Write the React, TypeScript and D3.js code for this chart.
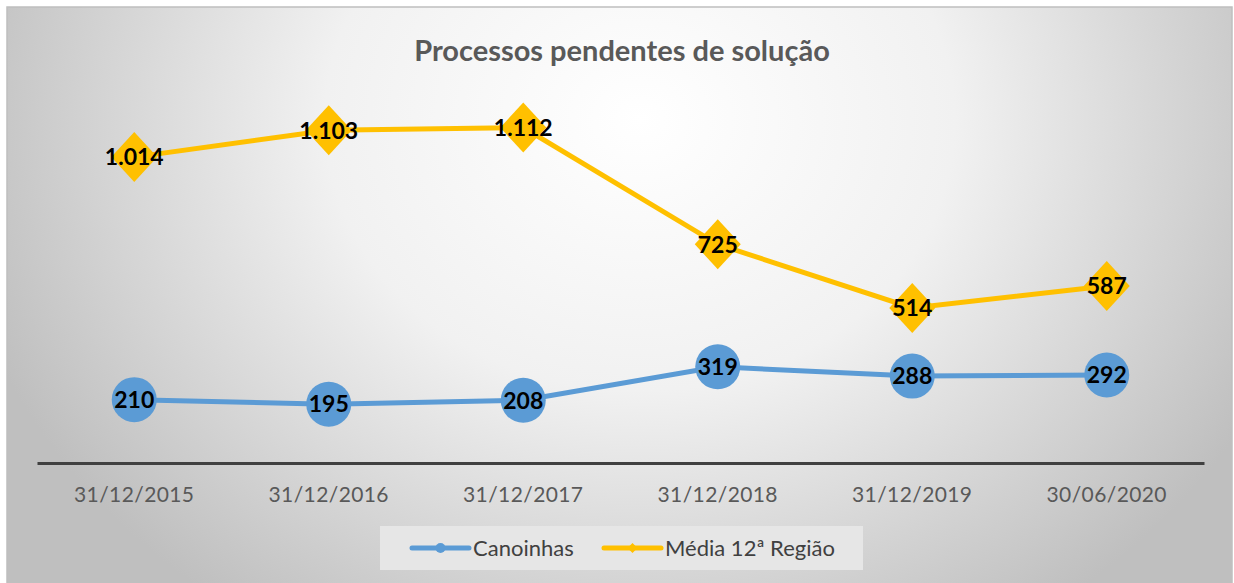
import { useRef, useEffect } from "react";
import * as d3 from "d3";

const dates = ["31/12/2015", "31/12/2016", "31/12/2017", "31/12/2018", "31/12/2019", "30/06/2020"];
const canoinhas = [210, 195, 208, 319, 288, 292];
const media12 = [1014, 1103, 1112, 725, 514, 587];
const seriesNames = ["Canoinhas", "Média 12ª Região"];
const chartTitle = "Processos pendentes de solução";

const blue = "#5b9bd5";
const gold = "#ffc000";

const fmt = (v: number) => (v >= 1000 ? `${Math.floor(v / 1000)}.${String(v % 1000).padStart(3, "0")}` : String(v));

const App = () => {
  const ref = useRef<HTMLDivElement | null>(null);
  const w = 1234;
  const h = 583;

  useEffect(() => {
    d3.select(ref.current).selectAll("*").remove();

    const svg = d3
      .select(ref.current)
      .append("svg")
      .attr("width", w)
      .attr("height", h)
      .style("display", "block");

    // background: radial gradient, white near the top centre
    const defs = svg.append("defs");
    const grad = defs
      .append("radialGradient")
      .attr("id", "bg")
      .attr("gradientUnits", "userSpaceOnUse")
      .attr("cx", 640)
      .attr("cy", 120)
      .attr("r", 700)
      .attr("gradientTransform", "translate(640,120) scale(1,0.86) translate(-640,-120)");
    grad.append("stop").attr("offset", "0%").attr("stop-color", "#ffffff");
    grad.append("stop").attr("offset", "45%").attr("stop-color", "#f1f1f1");
    grad.append("stop").attr("offset", "100%").attr("stop-color", "#bfbfbf");

    svg.append("rect").attr("width", w).attr("height", h).attr("fill", "#ffffff");
    svg
      .append("rect")
      .attr("x", 7)
      .attr("y", 7)
      .attr("width", 1225)
      .attr("height", 590)
      .attr("fill", "url(#bg)")
      .attr("stroke", "#bfbfbf")
      .attr("stroke-width", 1.5);

    svg
      .append("text")
      .attr("x", 622)
      .attr("y", 61)
      .attr("text-anchor", "middle")
      .style("font-family", "Lato, sans-serif")
      .style("font-weight", "bold")
      .style("font-size", "29px")
      .attr("fill", "#595959")
      .text(chartTitle);

    const x = d3.scaleBand<string>().domain(dates).range([37, 1204]);
    const y = d3.scaleLinear().domain([0, 1200]).range([463, 101]);
    const cx = (d: string) => (x(d) as number) + x.bandwidth() / 2;

    // category axis
    const axis = svg
      .append("g")
      .attr("transform", "translate(0,463)")
      .call(d3.axisBottom(x).tickSize(0).tickPadding(0));
    axis.select(".domain").attr("stroke", "#404040").attr("stroke-width", 3);
    axis
      .selectAll("text")
      .attr("dy", "0")
      .attr("y", 39)
      .attr("fill", "#595959")
      .style("font-family", "Lato, sans-serif")
      .style("font-size", "21px")
      .style("letter-spacing", "0.4px");

    const line = d3
      .line<number>()
      .x((_, i) => cx(dates[i]))
      .y((d) => y(d));

    const diamond = (px: number, py: number, hw: number, hh: number) =>
      `M${px},${py - hh}L${px + hw},${py}L${px},${py + hh}L${px - hw},${py}Z`;

    // Canoinhas
    svg
      .append("path")
      .attr("d", line(canoinhas))
      .attr("fill", "none")
      .attr("stroke", blue)
      .attr("stroke-width", 5);
    svg
      .selectAll(".dotB")
      .data(canoinhas)
      .enter()
      .append("circle")
      .attr("cx", (_, i) => cx(dates[i]))
      .attr("cy", (d) => y(d))
      .attr("r", 22.5)
      .attr("fill", blue);

    // Média 12ª Região
    svg
      .append("path")
      .attr("d", line(media12))
      .attr("fill", "none")
      .attr("stroke", gold)
      .attr("stroke-width", 5);
    svg
      .selectAll(".dotY")
      .data(media12)
      .enter()
      .append("path")
      .attr("d", (d, i) => diamond(cx(dates[i]), y(d), 23, 25))
      .attr("fill", gold);

    const labels = (vals: number[]) =>
      svg
        .append("g")
        .selectAll("text")
        .data(vals)
        .enter()
        .append("text")
        .attr("x", (_, i) => cx(dates[i]))
        .attr("y", (d) => y(d))
        .attr("dy", "0.36em")
        .attr("text-anchor", "middle")
        .style("font-family", "Lato, sans-serif")
        .style("font-weight", "bold")
        .style("font-size", "23px")
        .attr("fill", "#000000")
        .text((d) => fmt(d));
    labels(canoinhas);
    labels(media12);

    // legend
    const lg = svg.append("g");
    lg.append("rect")
      .attr("x", 380)
      .attr("y", 526)
      .attr("width", 483)
      .attr("height", 44)
      .attr("fill", "#e6e6e6");
    const items = [
      { name: seriesNames[0], color: blue, x0: 412 },
      { name: seriesNames[1], color: gold, x0: 604 },
    ];
    items.forEach((it, i) => {
      lg.append("line")
        .attr("x1", it.x0)
        .attr("x2", it.x0 + 57)
        .attr("y1", 548)
        .attr("y2", 548)
        .attr("stroke", it.color)
        .attr("stroke-width", 5)
        .attr("stroke-linecap", "round");
      if (i === 0) {
        lg.append("circle").attr("cx", it.x0 + 28.5).attr("cy", 548).attr("r", 5).attr("fill", it.color);
      } else {
        lg.append("path").attr("d", diamond(it.x0 + 28.5, 548, 5, 5)).attr("fill", it.color);
      }
      lg.append("text")
        .attr("x", it.x0 + 61)
        .attr("y", 556)
        .style("font-family", "Lato, sans-serif")
        .style("font-size", "22px")
        .attr("fill", "#404040")
        .text(it.name);
    });
  }, []);

  return <div ref={ref} style={{ position: "absolute", left: 0, top: 0 }} />;
};

export default App;
